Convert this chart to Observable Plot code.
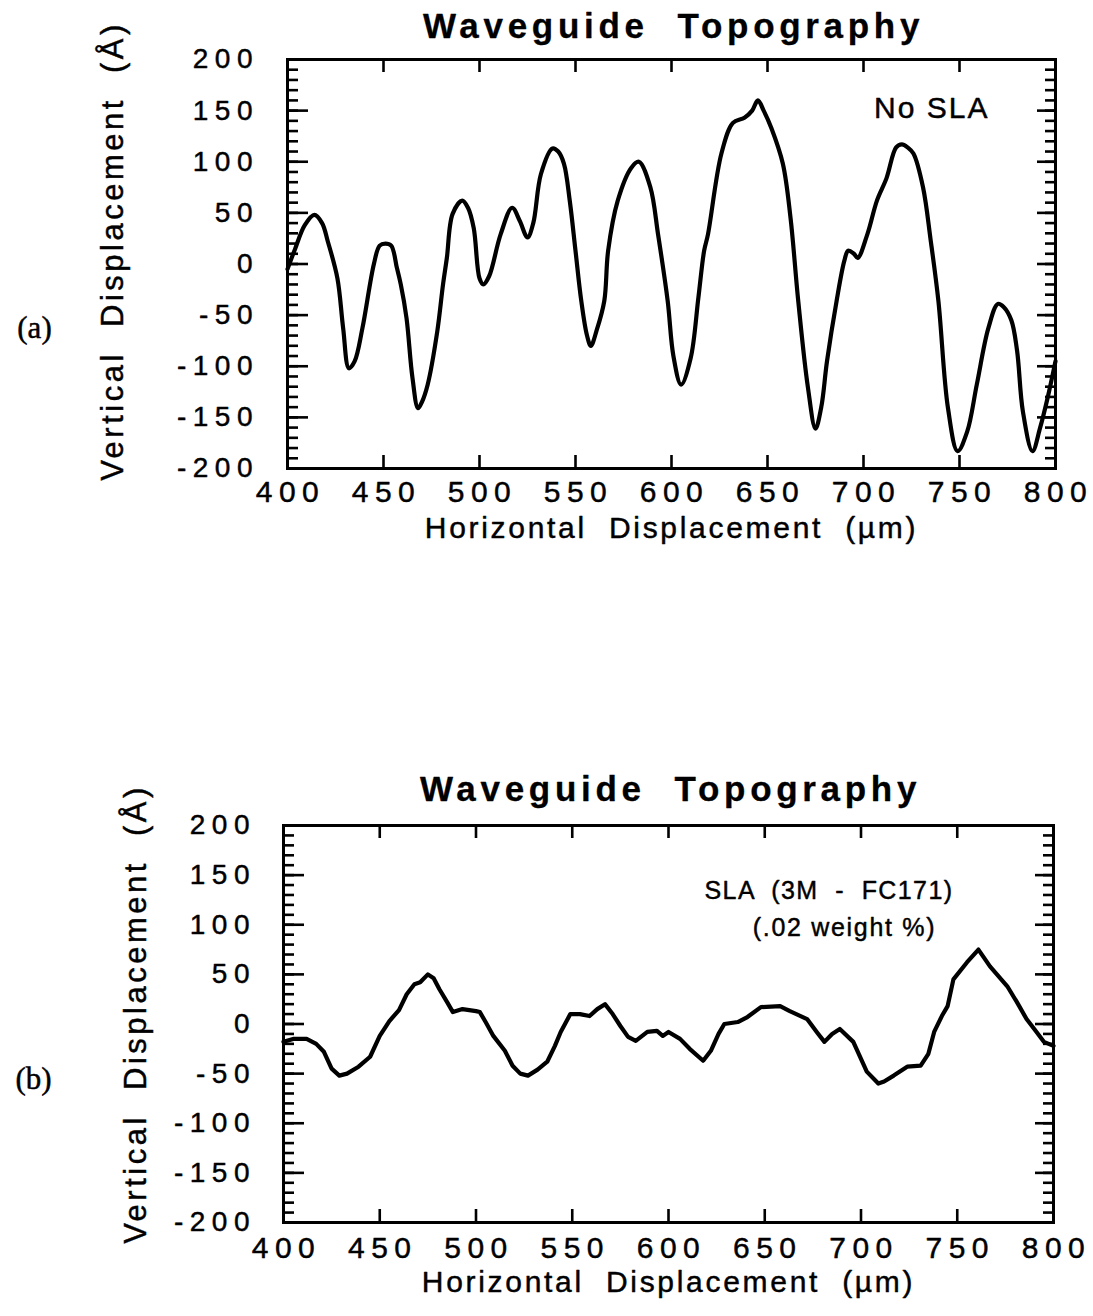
<!DOCTYPE html>
<html>
<head>
<meta charset="utf-8">
<script src="https://cdn.jsdelivr.net/npm/d3@7"></script>
<script src="https://cdn.jsdelivr.net/npm/@observablehq/plot@0.6"></script>
<style>
  body { margin: 0; background: #fff; }
  #wrap { width: 1093px; height: 1316px; overflow: hidden; }
  #wrap svg { display: block; background: #fff; }
  #wrap svg text { white-space: pre; }
</style>
</head>
<body>
<div id="wrap"></div>
<script>
// ---------- data ----------
const xTickValues = [400, 450, 500, 550, 600, 650, 700, 750, 800];
const yTickValues = [-200, -150, -100, -50, 0, 50, 100, 150, 200];
const yMinorValues = d3.range(-200, 201, 10);

const titleText = "Waveguide  Topography";
const xLabelText = "Horizontal  Displacement  (\u00B5m)";
const yLabelText = "Vertical  Displacement  (\u00C5)";
const panelLabels = ["(a)", "(b)"];
const noteTop = "No SLA";
const noteBottom1 = "SLA  (3M  -  FC171)";
const noteBottom2 = "(.02 weight %)";

// (a) No SLA
const topHorizontal = [400,404,409,414,418,421,426,429,432,435,439,445,448,451,454,457,459,462,465,468,470,473,478,481,483,486,491,494,497,500,502,505,511,517,521,525,528,532,538,541,544,547,550,553,556,558,561,565,567,572,579,583,589,593,598,601,605,610,614,617,619,626,632,638,642,645,648,652,658,662,666,671,675,678,681,686,690,692,695,697,702,707,712,717,720,723,726,731,735,739,744,749,754,759,765,770,773,777,780,783,788,792,796,800];
const topVertical = [-5,15,38,48,40,22,-14,-63,-102,-95,-63,0,18,20,18,-4,-20,-53,-110,-141,-135,-118,-66,-20,6,49,62,55,35,-14,-20,-12,29,55,42,26,40,88,113,110,98,62,13,-36,-70,-80,-65,-36,13,62,94,100,75,29,-36,-90,-118,-92,-33,13,29,108,138,143,150,160,150,133,98,45,-36,-120,-161,-140,-95,-36,3,13,10,6,29,62,84,114,117,114,108,75,23,-36,-141,-183,-164,-118,-63,-39,-42,-55,-85,-144,-183,-160,-130,-95];

// (b) SLA (3M - FC171)
const bottomHorizontal = [400,405,412,417,421,425,429,433,439,445,450,455,460,464,468,471,475,478,481,485,488,493,500,502,505,509,515,519,523,527,532,537,541,544,549,554,559,563,567,571,575,579,583,589,594,597,600,606,611,618,622,626,629,636,641,648,658,663,672,677,681,685,689,696,703,709,712,717,724,731,735,738,742,745,748,755,761,767,776,781,786,790,795,800];
const bottomVertical = [-18,-15,-15,-20,-28,-45,-52,-50,-43,-33,-12,3,14,30,40,42,50,46,35,22,12,15,13,12,2,-12,-27,-42,-50,-52,-46,-38,-22,-8,10,10,8,15,20,10,-2,-13,-17,-8,-7,-12,-8,-15,-25,-37,-27,-10,0,2,7,17,18,13,5,-8,-18,-10,-5,-18,-48,-60,-58,-52,-43,-42,-30,-8,8,18,45,62,75,58,38,22,5,-5,-18,-22];

// ---------- drawing ----------
const W = 1093;
const SANS = "'Liberation Sans', Arial, Helvetica, sans-serif";
const SERIF = "'Liberation Serif', 'Times New Roman', serif";

function drawPanel(p) {
  const fw = W - p.ml - p.mr;
  const fh = p.h - p.mt - p.mb;
  const pts = p.xs.map((x, i) => ({x, y: p.ys[i]}));
  const spacing = [];
  const txt = (ls, data, opts) => {
    spacing.push(ls);
    return Plot.text(data, {fontFamily: SANS, text: d => d, fill: "#000", stroke: "#000", strokeWidth: 0.45, ...opts});
  };
  const innerX = xTickValues.slice(1, -1);
  const majorY = yTickValues.slice(1, -1);
  const tickStyle = {stroke: "#000", strokeWidth: 2.6};

  const marks = [
    // left ticks (inward)
    Plot.tickY(yMinorValues, {y: d => d, insetRight: fw - 11, ...tickStyle}),
    Plot.tickY(majorY, {y: d => d, insetRight: fw - 21, ...tickStyle}),
    // right ticks (inward)
    Plot.tickY(yMinorValues, {y: d => d, insetLeft: fw - 10, ...tickStyle}),
    Plot.tickY(majorY, {y: d => d, insetLeft: fw - 18, ...tickStyle}),
    // top & bottom ticks (inward)
    Plot.tickX(innerX, {x: d => d, insetBottom: fh - 13, ...tickStyle}),
    Plot.tickX(innerX, {x: d => d, insetTop: fh - 13, ...tickStyle}),
    // profile
    Plot.line(pts, {x: "x", y: "y", stroke: "#000", strokeWidth: 4.2, curve: p.curve, strokeLinejoin: "round", strokeLinecap: "round"}),
    Plot.frame({stroke: "#000", strokeWidth: 3}),
    // title
    txt(4.7, [titleText], {frameAnchor: "top", textAnchor: "middle", dy: p.titleDy, dx: 2, fontSize: 35, fontWeight: "bold", lineAnchor: "middle", strokeWidth: 0.3}),
    // y tick labels
    txt(6.5, yTickValues, {y: d => d, frameAnchor: "left", dx: p.yTickDx, textAnchor: "end", lineAnchor: "middle", fontSize: 28, text: d => String(d)}),
    // x tick labels
    txt(6.5, xTickValues, {x: d => d, frameAnchor: "bottom", textAnchor: "middle", dy: p.xTickDy, dx: 3, lineAnchor: "middle", fontSize: 30, text: d => String(d)}),
    // x label
    txt(2.7, [xLabelText], {frameAnchor: "bottom", textAnchor: "middle", dy: p.xLabelDy, dx: 0, lineAnchor: "middle", fontSize: 30}),
    // y label
    txt(3.5, [yLabelText], {frameAnchor: "left", textAnchor: "middle", dx: p.yLabelDx, dy: p.yLabelDy, rotate: -90, lineAnchor: "middle", fontSize: 31}),
    // panel label
    txt(0, [p.panel], {frameAnchor: "left", textAnchor: "middle", dx: p.panelDx, dy: p.panelDy, lineAnchor: "middle", fontSize: 31, fontFamily: SERIF}),
    ...p.notes.map(n => txt(n.ls, [n.text], {x: n.x, y: n.y, textAnchor: "middle", fontSize: n.size, lineAnchor: "middle", dx: n.ls / 2}))
  ];

  const svg = Plot.plot({
    width: W,
    height: p.h,
    marginTop: p.mt,
    marginBottom: p.mb,
    marginLeft: p.ml,
    marginRight: p.mr,
    x: {domain: [400, 800], axis: null},
    y: {domain: [-200, 200], axis: null},
    style: {background: "#fff", color: "#000", overflow: "visible"},
    marks
  });
  d3.select(svg).selectAll('g[aria-label="text"]').each(function (_, i) {
    if (spacing[i]) d3.select(this).style("letter-spacing", spacing[i] + "px");
  });
  return svg;
}

const wrap = document.getElementById("wrap");

wrap.appendChild(drawPanel({
  xs: topHorizontal, ys: topVertical, curve: "catmull-rom",
  h: 600, mt: 59, mb: 132, ml: 287, mr: 38,
  titleDy: -33, yTickDx: -28.5, xTickDy: 24, xLabelDy: 60,
  yLabelDx: -174, yLabelDy: -13, panel: panelLabels[0], panelDx: -253, panelDy: 64,
  notes: [{text: noteTop, x: 735, y: 152, size: 30, ls: 2}]
}));

wrap.appendChild(drawPanel({
  xs: bottomHorizontal, ys: bottomVertical, curve: "linear",
  h: 716, mt: 225, mb: 94, ml: 283, mr: 40,
  titleDy: -36, yTickDx: -27.5, xTickDy: 26, xLabelDy: 60,
  yLabelDx: -147, yLabelDy: -10, panel: panelLabels[1], panelDx: -250, panelDy: 55,
  notes: [
    {text: noteBottom1, x: 683, y: 134, size: 25, ls: 1.4},
    {text: noteBottom2, x: 691, y: 97, size: 25, ls: 1.7}
  ]
}));
</script>
</body>
</html>
